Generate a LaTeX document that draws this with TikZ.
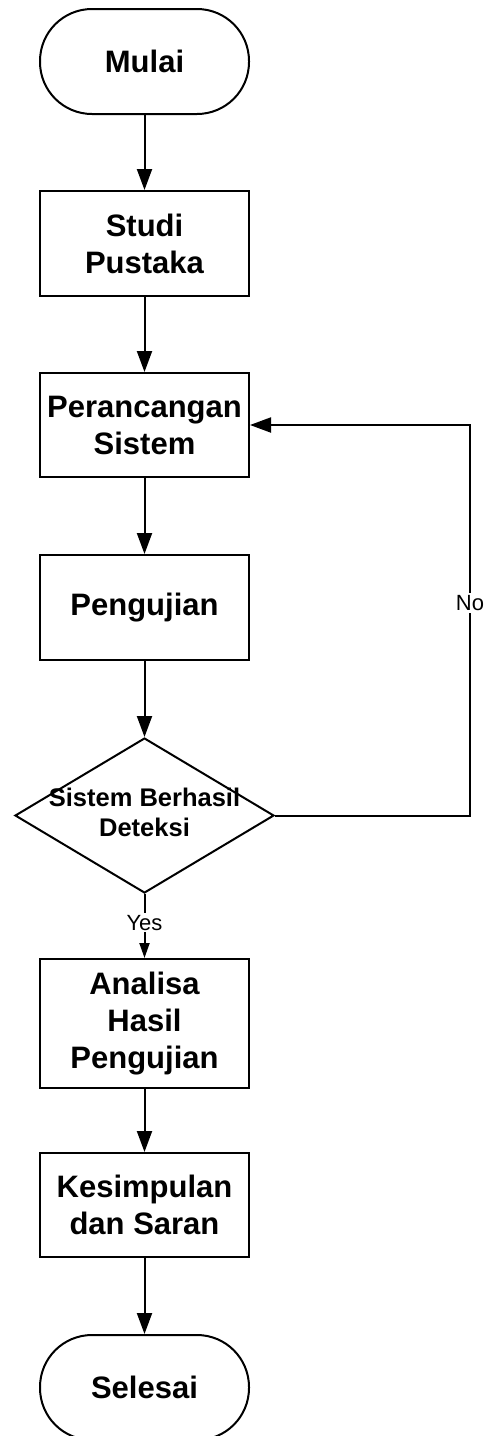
\documentclass[tikz,border=0pt]{standalone}
\usepackage{fontspec}
\setmainfont{Liberation Sans}
\usetikzlibrary{shapes.geometric,arrows.meta}
\begin{document}
\begin{tikzpicture}[x=1pt,y=-1pt,
  every path/.style={line width=2pt},
  base/.style={draw=black,line width=2pt,minimum width=209pt,align=center,inner sep=2pt,
    font=\bfseries\fontsize{31}{37}\selectfont},
  procbox/.style={base,rectangle,minimum height=105pt},
  termbox/.style={base,rectangle,rounded corners=52pt,minimum height=105pt},
  decbox/.style={draw=black,line width=2pt,diamond,aspect=1.671,minimum width=259pt,minimum height=155pt,inner sep=0pt},
  dectxt/.style={align=center,font=\bfseries\fontsize{25.5}{30}\selectfont},
  lbl/.style={fill=white,inner sep=2pt,font=\fontsize{22}{26}\selectfont},
  arr/.style={-{Triangle[width=15pt,length=21pt]}},
  sarr/.style={-{Triangle[width=10pt,length=15pt]}}
]
\useasboundingbox (0,0) rectangle (487,1436);
\node[termbox] (mulai) at (144.5,61.5) {Mulai};
\node[procbox] (studi) at (144.5,243.5) {Studi\\Pustaka};
\node[procbox, minimum height=104pt] (peran) at (144.5,425) {Perancangan\\Sistem};
\node[procbox] (peng) at (144.5,607.5) {Pengujian};
\node[decbox] (dec) at (144.5,815.5) {};
\node[dectxt] (dect) at (144.5,812) {Sistem Berhasil\\Deteksi};
\node[procbox, minimum height=129pt] (anal) at (144.5,1023.5) {Analisa\\Hasil\\Pengujian};
\node[procbox, minimum height=104pt] (kes) at (144.5,1205) {Kesimpulan\\dan Saran};
\node[termbox] (sel) at (144.5,1387.5) {Selesai};
\coordinate (cr) at (470,815.5);

\draw[arr] (mulai) -- (studi);
\draw[arr] (studi) -- (peran);
\draw[arr] (peran) -- (peng);
\draw[arr] (peng) -- (dec.north);
\draw[sarr] (dec.south) -- node[lbl,pos=0.45] {Yes} (anal.north);
\draw[arr] (anal) -- (kes);
\draw[arr] (kes) -- (sel);
\draw[arr] (dec.east) -- (cr) |- node[lbl,pos=0.272] {No} (peran.east);
\end{tikzpicture}
\end{document}
